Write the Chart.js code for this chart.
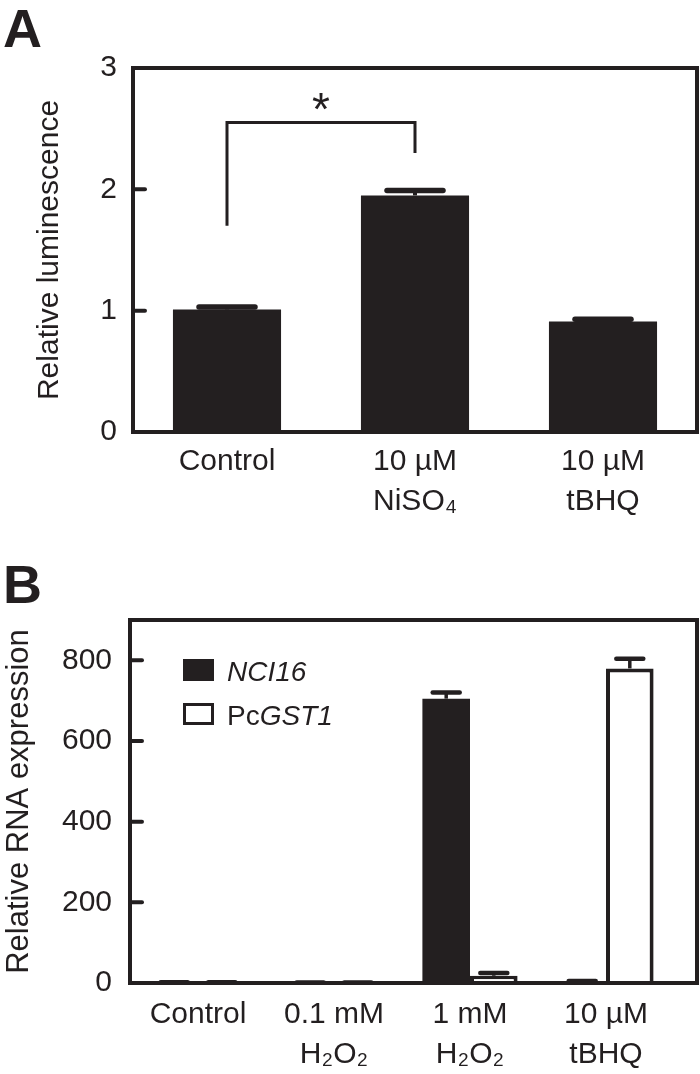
<!DOCTYPE html>
<html><head><meta charset="utf-8">
<script src="https://cdn.jsdelivr.net/npm/chart.js@4"></script>
<style>
html,body{margin:0;padding:0;background:#fff;width:700px;height:1074px;overflow:hidden}
.panel{position:absolute;left:0;width:700px}
.letter{position:absolute;z-index:2;font:bold 54px "Liberation Sans",Arial,sans-serif;color:#231f20;line-height:54px}
</style></head><body>
<div class="panel" style="top:0;height:540px"><canvas id="cA" width="700" height="540"></canvas></div>
<div class="panel" style="top:540px;height:534px"><canvas id="cB" width="700" height="534"></canvas></div>
<div class="letter" style="left:3px;top:1px">A</div>
<div class="letter" style="left:3px;top:557px">B</div>
<script>
// ---------- Panel A data ----------
const catA = [['Control'], ['10 µM', 'NiSO₄'], ['10 µM', 'tBHQ']];
const valA = [1.01, 1.95, 0.91];
const errA = [0.02, 0.04, 0.02];
const ticksA = [0, 1, 2, 3];
const titleA = 'Relative luminescence';
const sigA = { from: 0, to: 1, top: 2.55, leftEnd: 1.7, rightEnd: 2.3, mark: '*' };

// ---------- Panel B data ----------
const catB = [['Control'], ['0.1 mM', 'H₂O₂'], ['1 mM', 'H₂O₂'], ['10 µM', 'tBHQ']];
const seriesNames = ['NCI16', 'PcGST1'];
const nci16 = [1, 1, 705, 4];
const nci16Err = [1, 0.5, 15, 1];
const gst1 = [1, 1, 18, 780];
const gst1Err = [1, 0.5, 7, 24];
const ticksB = [0, 200, 400, 600, 800];
const titleB = 'Relative RNA expression';
// legend text parts: [text, italic]
const legendParts = [[['NCI16', true]], [['Pc', false], ['GST1', true]]];

// ---------- styles ----------
const INK = '#231f20';
const FONT = '"Liberation Sans", Arial, Helvetica, sans-serif';

const framePlugin = {
  id: 'frame',
  afterDatasetsDraw(chart, args, o) {
    const { ctx, chartArea: a } = chart;
    const ys = chart.scales.y;
    ctx.save();
    ctx.strokeStyle = INK;
    ctx.lineCap = 'round';
    ctx.lineWidth = o.tickWidth;
    ys.ticks.forEach(t => {
      const y = ys.getPixelForValue(t.value);
      ctx.beginPath(); ctx.moveTo(a.left, y); ctx.lineTo(a.left + o.tickLen, y); ctx.stroke();
    });
    ctx.lineCap = 'butt';
    ctx.lineJoin = 'miter';
    ctx.lineWidth = o.lineWidth;
    ctx.strokeRect(a.left, a.top, a.right + o.extraRight - a.left, a.bottom - a.top);
    ctx.restore();
  }
};

const errorPlugin = {
  id: 'errorBars',
  afterDatasetsDraw(chart, args, o) {
    const { ctx } = chart;
    const ys = chart.scales.y;
    ctx.save();
    ctx.strokeStyle = INK;
    chart.data.datasets.forEach((ds, i) => {
      if (!ds.errors) return;
      const meta = chart.getDatasetMeta(i);
      meta.data.forEach((bar, j) => {
        const v = ds.data[j], e = ds.errors[j];
        const yTop = ys.getPixelForValue(v + e);
        ctx.lineCap = 'butt';
        ctx.lineWidth = o.stemWidth;
        ctx.beginPath(); ctx.moveTo(bar.x, bar.y); ctx.lineTo(bar.x, yTop); ctx.stroke();
        ctx.lineCap = 'round';
        ctx.lineWidth = o.capThick;
        ctx.beginPath(); ctx.moveTo(bar.x - o.capWidth / 2, yTop); ctx.lineTo(bar.x + o.capWidth / 2, yTop); ctx.stroke();
      });
    });
    ctx.restore();
  }
};

const bracketPlugin = {
  id: 'bracket',
  afterDatasetsDraw(chart, args, o) {
    const { ctx } = chart;
    const xs = chart.scales.x, ys = chart.scales.y;
    const x0 = xs.getPixelForValue(sigA.from), x1 = xs.getPixelForValue(sigA.to);
    const yT = ys.getPixelForValue(sigA.top);
    ctx.save();
    ctx.strokeStyle = INK;
    ctx.lineWidth = o.lineWidth;
    ctx.lineJoin = 'miter';
    ctx.beginPath();
    ctx.moveTo(x0, ys.getPixelForValue(sigA.leftEnd));
    ctx.lineTo(x0, yT);
    ctx.lineTo(x1, yT);
    ctx.lineTo(x1, ys.getPixelForValue(sigA.rightEnd));
    ctx.stroke();
    ctx.fillStyle = INK;
    ctx.font = '46px ' + FONT;
    ctx.textAlign = 'center';
    ctx.textBaseline = 'middle';
    ctx.fillText(sigA.mark, (x0 + x1) / 2, yT - o.markGap);
    ctx.restore();
  }
};

const legendPlugin = {
  id: 'customLegend',
  afterDraw(chart, args, o) {
    const { ctx, chartArea: a } = chart;
    ctx.save();
    chart.data.datasets.forEach((ds, i) => {
      const bx = a.left + o.dx, by = a.top + o.dy + i * o.rowGap;
      const bw = o.boxW, bh = o.boxH;
      ctx.fillStyle = ds.backgroundColor;
      ctx.fillRect(bx, by, bw, bh);
      if (ds.borderWidth) {
        ctx.strokeStyle = ds.borderColor;
        ctx.lineWidth = o.boxBorder;
        ctx.strokeRect(bx + o.boxBorder / 2, by + o.boxBorder / 2, bw - o.boxBorder, bh - o.boxBorder);
      }
      let tx = bx + o.textDx;
      const ty = by + o.baseline;
      ctx.fillStyle = INK;
      ctx.textBaseline = 'alphabetic';
      ctx.textAlign = 'left';
      legendParts[i].forEach(([t, it]) => {
        ctx.font = (it ? 'italic ' : '') + '28px ' + FONT;
        ctx.fillText(t, tx, ty);
        tx += ctx.measureText(t).width;
      });
    });
    ctx.restore();
  }
};

function yScale(ticks, max, title, width, pad, titlePadTop, titleSize, titleAlign) {
  return {
    min: 0, max: max,
    grid: { display: false, drawTicks: false },
    border: { display: false },
    afterBuildTicks(s) { s.ticks = ticks.map(v => ({ value: v })); },
    ticks: { color: INK, font: { family: FONT, size: 30 }, padding: pad },
    title: { display: true, text: title, color: INK, align: titleAlign,
             font: { family: FONT, size: titleSize, lineHeight: 1.2 }, padding: { top: titlePadTop, bottom: 0 } },
    afterFit(s) { s.width = width; }
  };
}
function xScale(height, pad) {
  return {
    type: 'category', offset: true,
    grid: { display: false, drawTicks: false },
    border: { display: false },
    ticks: { color: INK, font: { family: FONT, size: 30, lineHeight: 1.3333 }, padding: pad, maxRotation: 0, autoSkip: false },
    afterFit(s) { s.height = height; }
  };
}

new Chart(document.getElementById('cA'), {
  type: 'bar',
  data: {
    labels: catA,
    datasets: [{ data: valA, errors: errA, backgroundColor: INK, borderWidth: 0,
                 categoryPercentage: 1, barPercentage: 0.575 }]
  },
  options: {
    responsive: false, animation: false, devicePixelRatio: 1,
    layout: { padding: { top: 68, right: 3, left: 0, bottom: 0 } },
    plugins: {
      legend: { display: false }, tooltip: { enabled: false },
      errorBars: { stemWidth: 4, capThick: 5.5, capWidth: 56 },
      frame: { lineWidth: 4, tickLen: 12, tickWidth: 4, extraRight: 0 },
      bracket: { lineWidth: 3, markGap: 10 }
    },
    scales: { x: xScale(108, 10), y: yScale(ticksA, 3, titleA, 133, 16, 32, 30, 'center') }
  },
  plugins: [errorPlugin, bracketPlugin, framePlugin]
});

new Chart(document.getElementById('cB'), {
  type: 'bar',
  data: {
    labels: catB,
    datasets: [
      { label: seriesNames[0], data: nci16, errors: nci16Err, backgroundColor: INK, borderWidth: 0,
        categoryPercentage: 0.7, barPercentage: 1 },
      { label: seriesNames[1], data: gst1, errors: gst1Err, backgroundColor: '#ffffff', borderColor: INK, borderWidth: 4,
        categoryPercentage: 0.7, barPercentage: 1 }
    ]
  },
  options: {
    responsive: false, animation: false, devicePixelRatio: 1,
    layout: { padding: { top: 80, right: 26, left: 0, bottom: 0 } },
    plugins: {
      legend: { display: false }, tooltip: { enabled: false },
      errorBars: { stemWidth: 3.5, capThick: 4.5, capWidth: 27 },
      frame: { lineWidth: 4, tickLen: 12, tickWidth: 4, extraRight: 23 },
      customLegend: { dx: 53, dy: 39, rowGap: 44, boxW: 31, boxH: 22, boxBorder: 3, textDx: 44, baseline: 21.5 }
    },
    scales: { x: xScale(91, 12), y: yScale(ticksB, 900, titleB, 130, 18, 1, 31, 'center') }
  },
  plugins: [errorPlugin, framePlugin, legendPlugin]
});
</script>
</body></html>
